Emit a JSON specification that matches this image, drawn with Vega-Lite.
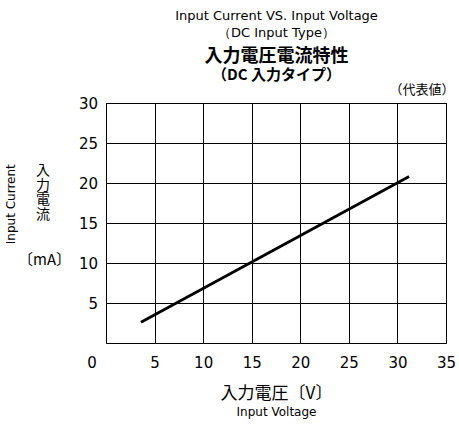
{
  "$schema": "https://vega.github.io/schema/vega-lite/v6.json",
  "autosize": {"type": "none"},
  "width": 340,
  "height": 240,
  "padding": {"left": 106, "top": 103, "right": 13, "bottom": 81},
  "background": "#ffffff",
  "data": {"values": [{"voltage": 3.6, "current": 2.6}, {"voltage": 31.2, "current": 20.8}]},
  "config": {
    "view": {"stroke": "#000000", "strokeWidth": 1},
    "font": "DejaVu Sans",
    "axis": {"titleColor": "#000000", "labelColor": "#000000", "titleFontWeight": "normal", "ticks": false, "tickSize": 0, "domain": false}
  },
  "resolve": {"axis": {"x": "independent", "y": "independent"}},
  "layer": [
    {
      "mark": {"type": "line", "color": "#000000", "strokeWidth": 2.8},
      "encoding": {
        "x": {"field": "voltage", "type": "quantitative", "scale": {"domain": [0, 35], "nice": false, "zero": false},
          "axis": {"orient": "bottom", "values": [0, 5, 10, 15, 20, 25, 30, 35], "grid": true, "gridColor": "#000000", "gridWidth": 1, "gridOpacity": 1,
            "labels": true, "labelFont": "DejaVu Sans", "labelFontSize": 15, "labelPadding": 12.5, "labelFlush": false, "labelOverlap": false, "labelBound": false,
            "labelOffset": {"condition": {"test": "datum.value == 0", "value": -14.5}, "value": 0},
            "title": "入力電圧〔V〕", "titleFont": "Noto Sans CJK JP", "titleFontSize": 17, "titleFontWeight": "normal",
            "titleX": 170, "titleY": 55, "titleAlign": "center", "titleBaseline": "alphabetic"}},
        "y": {"field": "current", "type": "quantitative", "scale": {"domain": [0, 30], "nice": false, "zero": false},
          "axis": {"orient": "left", "values": [5, 10, 15, 20, 25, 30], "grid": true, "gridColor": "#000000", "gridWidth": 1, "gridOpacity": 1,
            "labels": true, "labelFont": "DejaVu Sans", "labelFontSize": 15, "labelPadding": 8.5, "labelOverlap": false, "labelBound": false,
            "title": ["入", "力", "電", "流"], "titleFont": "Noto Sans CJK JP", "titleFontSize": 14, "titleFontWeight": "normal",
            "titleAngle": 0, "titleX": -63.5, "titleY": 60.5, "titleAlign": "center", "titleBaseline": "top", "titleLineHeight": 14.7}}
      }
    },
    {
      "mark": {"type": "line", "opacity": 0},
      "encoding": {
        "x": {"field": "voltage", "type": "quantitative", "scale": {"domain": [0, 35], "nice": false, "zero": false},
          "axis": {"orient": "top", "grid": false, "labels": false, "ticks": false, "domain": false,
            "title": ["Input Current VS. Input Voltage", "（DC Input Type）"], "titleFont": "DejaVu Sans", "titleFontSize": 13, "titleFontWeight": "normal",
            "titleX": 170, "titleY": -94, "titleAlign": "center", "titleBaseline": "top", "titleLineHeight": 17}},
        "y": {"field": "current", "type": "quantitative", "scale": {"domain": [0, 30], "nice": false, "zero": false},
          "axis": {"orient": "left", "grid": false, "labels": false, "ticks": false, "domain": false,
            "title": "Input Current", "titleFont": "DejaVu Sans", "titleFontSize": 12, "titleFontWeight": "normal",
            "titleAngle": 270, "titleX": -95.5, "titleY": 100.7, "titleAlign": "center", "titleBaseline": "middle"}}
      }
    },
    {
      "mark": {"type": "line", "opacity": 0},
      "encoding": {
        "x": {"field": "voltage", "type": "quantitative", "scale": {"domain": [0, 35], "nice": false, "zero": false},
          "axis": {"orient": "top", "grid": false, "labels": false, "ticks": false, "domain": false,
            "title": "入力電圧電流特性", "titleFont": "Noto Sans CJK JP", "titleFontSize": 18, "titleFontWeight": "bold",
            "titleX": 170, "titleY": -41.3, "titleAlign": "center", "titleBaseline": "alphabetic"}},
        "y": {"field": "current", "type": "quantitative", "scale": {"domain": [0, 30], "nice": false, "zero": false},
          "axis": {"orient": "right", "grid": false, "labels": false, "ticks": false, "domain": false,
            "title": "（代表値）", "titleFont": "Noto Sans CJK JP", "titleFontSize": 13, "titleFontWeight": "normal",
            "titleAngle": 0, "titleX": 8, "titleY": -9.5, "titleAlign": "right", "titleBaseline": "alphabetic"}}
      }
    },
    {
      "mark": {"type": "line", "opacity": 0},
      "encoding": {
        "x": {"field": "voltage", "type": "quantitative", "scale": {"domain": [0, 35], "nice": false, "zero": false},
          "axis": {"orient": "bottom", "grid": false, "labels": false, "ticks": false, "domain": false,
            "title": "Input Voltage", "titleFont": "DejaVu Sans", "titleFontSize": 12, "titleFontWeight": "normal",
            "titleX": 170, "titleY": 72.7, "titleAlign": "center", "titleBaseline": "alphabetic"}},
        "y": {"field": "current", "type": "quantitative", "scale": {"domain": [0, 30], "nice": false, "zero": false},
          "axis": {"orient": "left", "grid": false, "labels": false, "ticks": false, "domain": false,
            "title": "（DC 入力タイプ）", "titleFont": "Noto Sans CJK JP", "titleFontSize": 15, "titleFontWeight": "bold",
            "titleAngle": 0, "titleX": 170, "titleY": -23.3, "titleAlign": "center", "titleBaseline": "alphabetic"}}
      }
    },
    {
      "mark": {"type": "line", "opacity": 0},
      "encoding": {
        "x": {"field": "voltage", "type": "quantitative", "scale": {"domain": [0, 35], "nice": false, "zero": false}, "axis": null},
        "y": {"field": "current", "type": "quantitative", "scale": {"domain": [0, 30], "nice": false, "zero": false},
          "axis": {"orient": "left", "grid": false, "labels": false, "ticks": false, "domain": false,
            "title": "〔mA〕", "titleFont": "Noto Sans CJK JP", "titleFontSize": 15, "titleFontWeight": "normal",
            "titleAngle": 0, "titleX": -62, "titleY": 156, "titleAlign": "center", "titleBaseline": "middle"}}
      }
    }
  ]
}
